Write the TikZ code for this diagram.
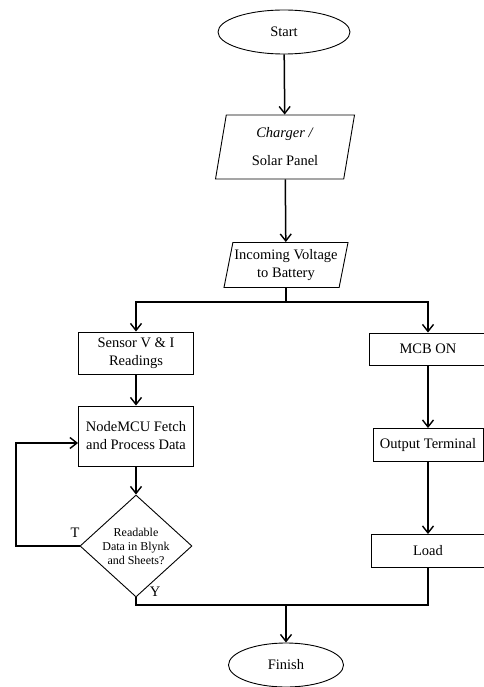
\documentclass[tikz,border=0pt]{standalone}
\usepackage{fontspec}
\setmainfont{Liberation Serif}
\usetikzlibrary{shapes.geometric,arrows.meta}

\begin{document}
\begin{tikzpicture}[x=1pt,y=-1pt,
	box/.style={draw,line width=0.9pt,align=center,inner sep=1pt,font=\fontsize{14.5}{18}\selectfont},
	proc/.style={box,rectangle},
	io/.style={box,trapezium,trapezium left angle=75,trapezium right angle=105,trapezium stretches body},
	term/.style={box,ellipse},
	dec/.style={box,diamond,aspect=1.1,font=\fontsize{12}{14}\selectfont},
	lbl/.style={font=\fontsize{14.5}{18}\selectfont,inner sep=0pt},
	ln/.style={line width=1.5pt},
	arr/.style={ln,-{Straight Barb[length=7pt,width=11pt,line width=1.4pt]}}]
		\useasboundingbox (0,0) rectangle (483,687);
		\node[term,minimum width=132,minimum height=44] (start) at (284,32) {Start};
		\node[io,minimum width=139,minimum height=64] (charger) at (285,147) {\textit{Charger /}\\[10pt]Solar Panel};
		\node[io,minimum width=124,minimum height=45] (incoming) at (286,265) {Incoming Voltage\\to Battery};
		\coordinate (split) at (286,302);
		\node[proc,minimum width=115,minimum height=42] (sensor) at (136,353) {Sensor V \& I\\Readings};
		\node[proc,minimum width=115,minimum height=60] (nodemcu) at (136,436) {NodeMCU Fetch\\and Process Data};
		\node[dec,minimum width=112,minimum height=102] (check) at (136,546) {Readable\\Data in Blynk\\and Sheets?};
		\node[proc,minimum width=118,minimum height=32] (mcb) at (428,349) {MCB ON};
		\node[proc,minimum width=110,minimum height=33] (output) at (428,445) {Output Terminal};
		\node[proc,minimum width=114,minimum height=33] (load) at (428,551) {Load};
		\coordinate (loop) at (16,443);
		\coordinate (merge) at (286,605);
		\node[term,minimum width=115,minimum height=44] (finish) at (286,665) {Finish};
		\node[lbl] (true) at (75,533) {T};
		\node[lbl] (yes) at (155,592) {Y};
		
		\draw[arr] (start) -- (charger);
		\draw[arr] (charger) -- (incoming);
		\draw[ln] (incoming) -- (split);
		\draw[arr] (split) -| (sensor);
		\draw[arr] (split) -| (mcb);
		\draw[arr] (sensor) -- (nodemcu);
		\draw[arr] (nodemcu) -- (check);
		\draw[arr] (check.west) -| (loop) -- (loop -| nodemcu.west);
		\draw[arr] (mcb) -- (output);
		\draw[arr] (output) -- (load);
		\draw[ln] (check.south) |- (merge) -| (load.south);
		\draw[arr] (merge) -- (finish);
	\end{tikzpicture}
\end{document}
